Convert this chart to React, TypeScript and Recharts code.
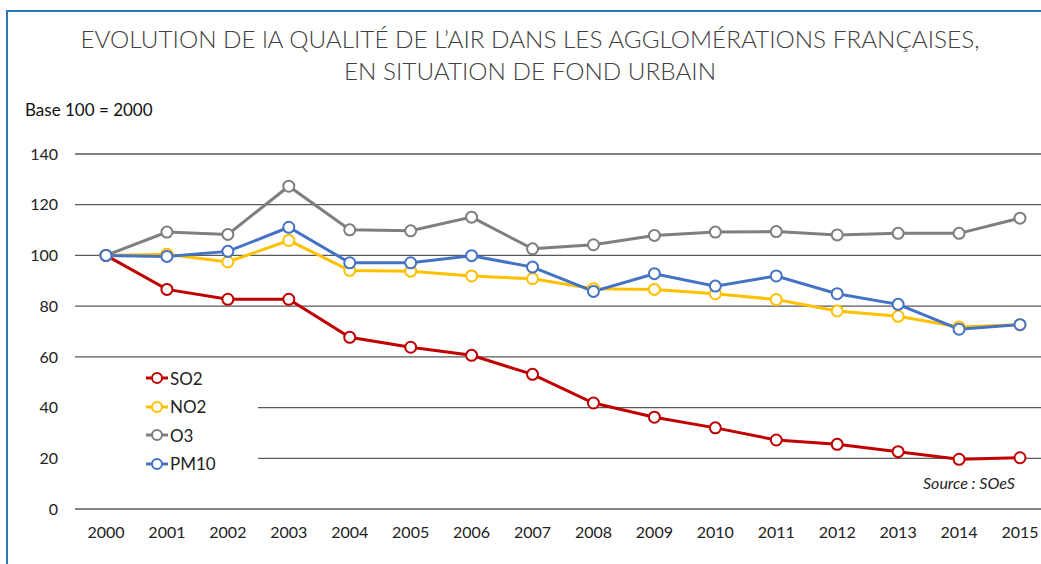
import React from 'react';
import { LineChart, Line, XAxis, YAxis, CartesianGrid } from 'recharts';

const years = ['2000', '2001', '2002', '2003', '2004', '2005', '2006', '2007', '2008', '2009', '2010', '2011', '2012', '2013', '2014', '2015'];
const so2 = [100, 86.6, 82.7, 82.7, 67.7, 63.8, 60.6, 53.1, 41.8, 36.2, 32, 27.2, 25.5, 22.6, 19.6, 20.2];
const no2 = [100, 100.5, 97.4, 105.9, 94.1, 93.8, 91.9, 90.8, 86.9, 86.6, 84.9, 82.6, 78.1, 76, 71.8, 72.7];
const o3 = [100, 109.2, 108.3, 127.3, 110.1, 109.7, 115.1, 102.6, 104.2, 107.9, 109.2, 109.4, 108.1, 108.7, 108.7, 114.7];
const pm10 = [100, 99.6, 101.6, 111.1, 97.1, 97.1, 99.9, 95.4, 85.8, 92.8, 87.9, 91.9, 84.9, 80.7, 70.9, 72.7];
const yTicks = [0, 20, 40, 60, 80, 100, 120, 140];

const series = [
  { key: 'SO2', color: '#c00000' },
  { key: 'NO2', color: '#ffc000' },
  { key: 'O3', color: '#7f7f7f' },
  { key: 'PM10', color: '#4472c4' },
];

const data = years.map((year, i) => ({
  year,
  SO2: so2[i],
  NO2: no2[i],
  O3: o3[i],
  PM10: pm10[i],
}));

const font = 'Lato, "Open Sans", sans-serif';

function LegendBox() {
  return (
    <div style={{ position: 'absolute', left: 75, top: 363, width: 183, height: 112, background: '#fff', paddingTop: 1, boxSizing: 'border-box' }}>
      {series.map(s => (
        <div key={s.key} style={{ display: 'flex', alignItems: 'center', height: 28.5, paddingLeft: 71 }}>
          <svg width={22} height={14}>
            <line x1={0} y1={7} x2={22} y2={7} stroke={s.color} strokeWidth={3} />
            <circle cx={11} cy={7} r={5} fill="#fff" stroke={s.color} strokeWidth={2} />
          </svg>
          <span style={{ fontFamily: font, fontSize: 17, color: '#222', marginLeft: 2 }}>{s.key}</span>
        </div>
      ))}
    </div>
  );
}

export default function App() {
  return (
    <div style={{ position: 'absolute', left: 0, top: 0, width: 1041, height: 564, background: '#fff', overflow: 'hidden' }}>
      <div style={{ position: 'absolute', left: 0, top: 0 }}>
        <LineChart width={1041} height={564} data={data} margin={{ top: 154, right: 0, bottom: 0, left: 0 }}>
          <CartesianGrid vertical={false} stroke="#595959" strokeWidth={1.3} />
          <XAxis
            dataKey="year"
            height={55}
            padding={{ left: 31, right: 21 }}
            axisLine={false}
            tickLine={false}
            tickSize={0}
            tickMargin={18}
            interval={0}
            tick={{ fontFamily: font, fontSize: 16, fill: '#222' }}
          />
          <YAxis
            width={75}
            domain={[0, 140]}
            ticks={yTicks}
            axisLine={false}
            tickLine={false}
            tickSize={0}
            tickMargin={17}
            tick={{ fontFamily: font, fontSize: 16, fill: '#222' }}
          />
          {series.map(s => (
            <Line
              key={s.key}
              type="linear"
              dataKey={s.key}
              stroke={s.color}
              strokeWidth={3}
              dot={{ r: 5.5, fill: '#fff', stroke: s.color, strokeWidth: 2 }}
              activeDot={false}
              isAnimationActive={false}
            />
          ))}
        </LineChart>
      </div>
      <LegendBox />
      <div style={{ position: 'absolute', left: 7, top: 10, width: 1034, height: 2, background: '#2e75b6' }} />
      <div style={{ position: 'absolute', left: 6, top: 10, width: 2, height: 554, background: '#2e75b6' }} />
      <div style={{ position: 'absolute', left: 0, top: 23, width: 1060, textAlign: 'center', fontFamily: font, fontWeight: 300, fontSize: 24.3, lineHeight: '32px', color: '#404040' }}>
        EVOLUTION DE lA QUALITÉ DE L’AIR DANS LES AGGLOMÉRATIONS FRANÇAISES,<br />EN SITUATION DE FOND URBAIN
      </div>
      <div style={{ position: 'absolute', left: 25, top: 99, fontFamily: font, fontSize: 17, color: '#111' }}>Base 100 = 2000</div>
      <div style={{ position: 'absolute', right: 26, top: 473, fontFamily: font, fontStyle: 'italic', fontSize: 16, color: '#222' }}>Source : SOeS</div>
    </div>
  );
}
